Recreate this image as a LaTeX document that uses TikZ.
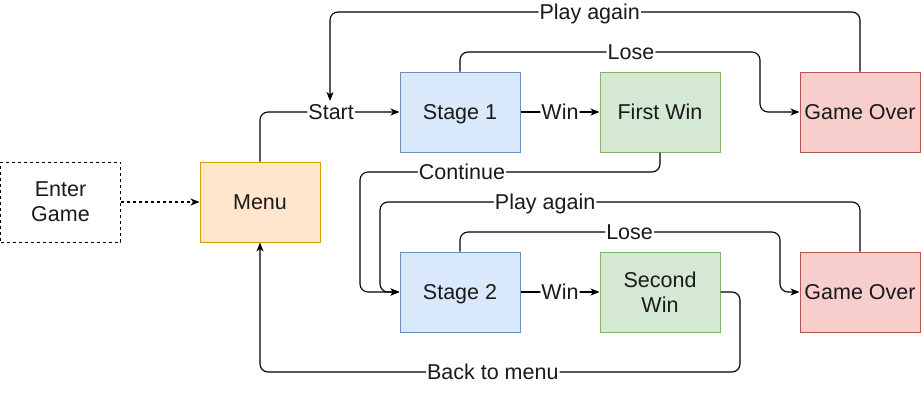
\documentclass[tikz,border=0pt]{standalone}
\usepackage{fontspec}
\setmainfont{Liberation Sans}
\usetikzlibrary{arrows.meta}
\definecolor{bluef}{HTML}{DAE8FC}\definecolor{blued}{HTML}{6C8EBF}
\definecolor{greenf}{HTML}{D5E8D4}\definecolor{greend}{HTML}{82B366}
\definecolor{redf}{HTML}{F8CECC}\definecolor{redd}{HTML}{B85450}
\definecolor{orangef}{HTML}{FFE6CC}\definecolor{oranged}{HTML}{D79B00}
\definecolor{txt}{HTML}{1A1A1A}
\begin{document}
\begin{tikzpicture}[x=1pt,y=-1pt,
  font=\fontsize{21.5}{25}\selectfont, text=txt,
  oneline/.style={text height=20.5pt, text depth=5pt},
  box/.style={draw, line width=1pt, minimum width=120pt, minimum height=80pt, align=center, inner sep=0pt},
  bluebox/.style={box, fill=bluef, draw=blued},
  greenbox/.style={box, fill=greenf, draw=greend},
  redbox/.style={box, fill=redf, draw=redd},
  orangebox/.style={box, fill=orangef, draw=oranged},
  conn/.style={line width=1.1pt, rounded corners=8pt, -{Stealth[length=9pt,width=7pt,inset=2.5pt]}},
  lbl/.style={fill=white, inner xsep=1pt, inner ysep=0pt, oneline}]
\useasboundingbox (0,0) rectangle (921,402);
\node[box, dash pattern=on 3pt off 3pt] (enter) at (60.5,202) {Enter\\Game};
\node[orangebox, oneline] (menu) at (260,202) {Menu};
\node[bluebox, oneline] (s1) at (460,112) {Stage 1};
\node[greenbox, oneline] (fw) at (660,112) {First Win};
\node[redbox, oneline] (go1) at (860,112) {Game Over};
\node[bluebox, oneline] (s2) at (460,292) {Stage 2};
\node[greenbox] (sw) at (660,292) {Second\\Win};
\node[redbox, oneline] (go2) at (860,292) {Game Over};
\coordinate (pa1end) at (330,101);

\draw[conn, dash pattern=on 3pt off 3pt] (enter) -- (menu);
\draw[conn] (menu.north) -- (260,112) -- node[lbl,pos=0.51]{Start} (s1.west);
\draw[conn] (s1) -- node[lbl]{Win} (fw);
\draw[conn] (s1.north) -- (460,52) -- node[lbl,pos=0.57]{Lose} (760,52) -- (760,112) -- (go1.west);
\draw[conn] (go1.north) -- (860,12) -- node[lbl,pos=0.51]{Play again} (330,12) -- (pa1end);
\draw[conn] (fw.south) -- (660,172) -- node[lbl,pos=0.66]{Continue} (360,172) -- (360,292) -- (s2.west);
\draw[conn] (go2.north) -- (860,202) -- node[lbl,pos=0.656]{Play again} (380,202) -- (380,292) -- (s2.west);
\draw[conn] (s2.north) -- (460,232) -- node[lbl,pos=0.53]{Lose} (780,232) -- (780,292) -- (go2.west);
\draw[conn] (s2) -- node[lbl]{Win} (sw);
\draw[conn] (sw.east) -- (740,292) -- (740,372) -- node[lbl,pos=0.515]{Back to menu} (260,372) -- (menu.south);
\end{tikzpicture}
\end{document}
